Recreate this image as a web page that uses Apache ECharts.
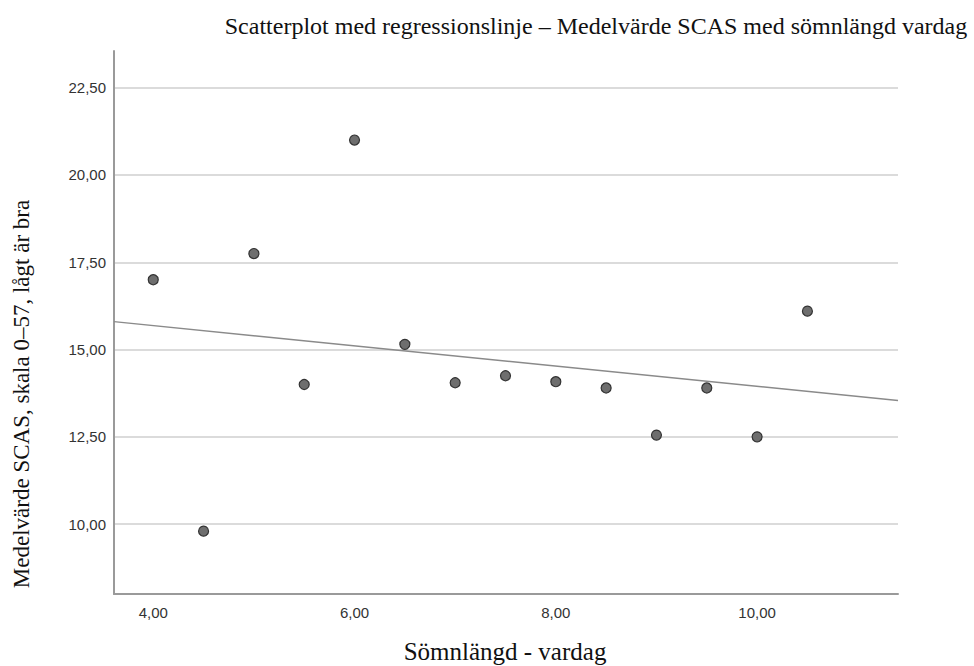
<!DOCTYPE html>
<html>
<head>
<meta charset="utf-8">
<script src="https://cdn.jsdelivr.net/npm/echarts@6/dist/echarts.min.js"></script>
<style>
  html, body { margin: 0; padding: 0; background: #fff; }
  #main { width: 974px; height: 666px; }
</style>
</head>
<body>
<div id="main"></div>
<script>
// sömnlängd (timmar) och medelvärde SCAS
var sleepHours = [4.0, 4.5, 5.0, 5.5, 6.0, 6.5, 7.0, 7.5, 8.0, 8.5, 9.0, 9.5, 10.0, 10.5];
var scasMean = [17.0, 9.8, 17.75, 14.0, 21.0, 15.15, 14.05, 14.25, 14.08, 13.9, 12.55, 13.9, 12.5, 16.1];
// regressionslinjens ändpunkter
var regX = [3.61, 11.4];
var regY = [15.8, 13.54];
var xTicks = [4, 6, 8, 10];
var yTicks = [10, 12.5, 15, 17.5, 20, 22.5];

var points = [];
for (var i = 0; i < sleepHours.length; i++) {
  points.push([sleepHours[i], scasMean[i]]);
}
var regLine = [[regX[0], regY[0]], [regX[1], regY[1]]];

function comma(v) {
  return v.toFixed(2).replace('.', ',');
}

var serif = '"Liberation Serif", "DejaVu Serif", serif';
var sans = '"Liberation Sans", Arial, sans-serif';

var myChart = echarts.init(document.getElementById('main'), null, { renderer: 'svg' });
myChart.setOption({
  animation: false,
  backgroundColor: '#fff',
  title: {
    text: 'Scatterplot med regressionslinje – Medelvärde SCAS med sömnlängd vardag',
    left: 591,
    top: 9,
    textAlign: 'center',
    textStyle: { fontFamily: serif, fontSize: 24, fontWeight: 'normal', color: '#111' }
  },
  grid: { left: 114, right: 76, top: 51, bottom: 72 },
  xAxis: {
    type: 'value',
    min: 3.61,
    max: 11.4,
    axisLine: { show: true, lineStyle: { color: '#9a9a9a', width: 2 } },
    axisTick: { show: false, customValues: xTicks },
    axisLabel: {
      customValues: xTicks,
      formatter: comma,
      margin: 11,
      fontFamily: sans, fontSize: 15, color: '#333'
    },
    splitLine: { show: false }
  },
  yAxis: {
    type: 'value',
    min: 8.0,
    max: 23.55,
    axisLine: { show: true, lineStyle: { color: '#9a9a9a', width: 2 } },
    axisTick: { show: false, customValues: yTicks },
    axisLabel: {
      customValues: yTicks,
      formatter: comma,
      margin: 8,
      fontFamily: sans, fontSize: 15, color: '#333'
    },
    splitLine: { show: true, lineStyle: { color: '#cfcfcf', width: 1.5 } }
  },
  graphic: [
    {
      type: 'text',
      x: 21, y: 394,
      rotation: Math.PI / 2,
      style: {
        text: 'Medelvärde SCAS, skala 0–57, lågt är bra',
        fontFamily: serif, fontSize: 23, fill: '#111',
        textAlign: 'center', textVerticalAlign: 'middle'
      }
    },
    {
      type: 'text',
      x: 505, y: 651,
      style: {
        text: 'Sömnlängd - vardag',
        fontFamily: serif, fontSize: 25, fill: '#111',
        textAlign: 'center', textVerticalAlign: 'middle'
      }
    }
  ],
  series: [
    {
      type: 'line',
      data: regLine,
      symbol: 'none',
      silent: true,
      lineStyle: { color: '#8a8a8a', width: 1.5 },
      z: 1
    },
    {
      type: 'scatter',
      data: points,
      symbol: 'circle',
      symbolSize: 10,
      itemStyle: { color: '#6e6e6e', borderColor: '#333', borderWidth: 1.2, opacity: 1 },
      z: 3
    }
  ]
});
</script>
</body>
</html>
